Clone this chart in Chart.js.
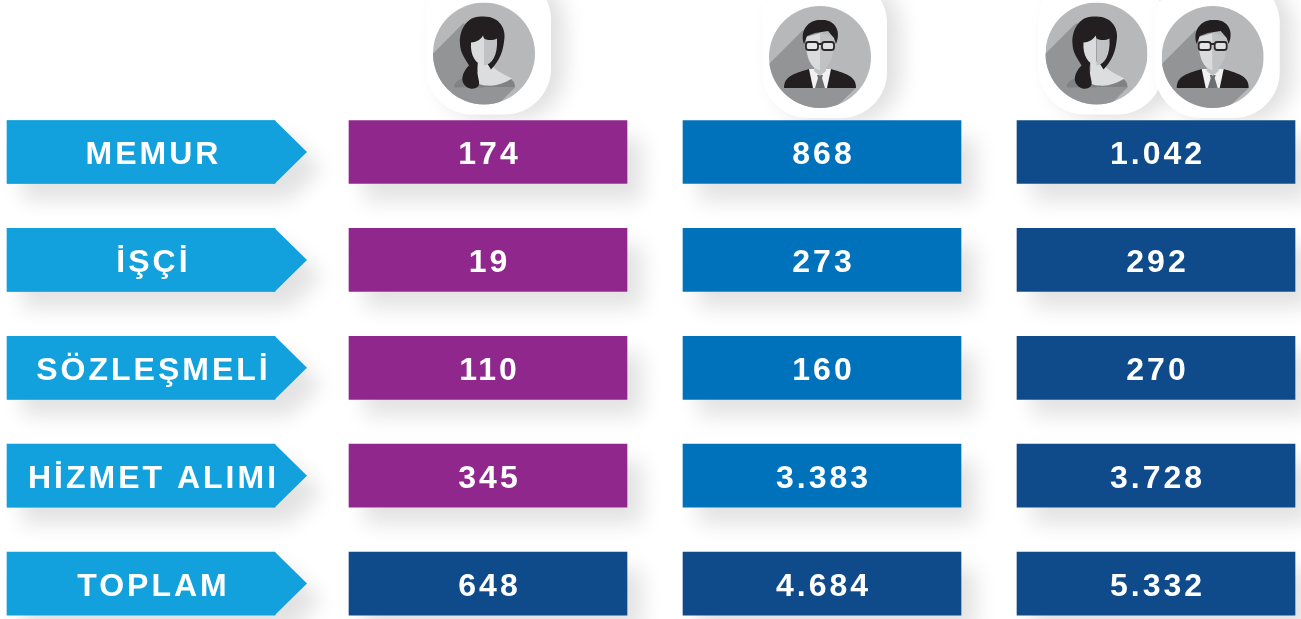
<!DOCTYPE html>
<html lang="tr">
<head>
<meta charset="utf-8">
<title>Personel tablosu</title>
<script src="https://cdn.jsdelivr.net/npm/chart.js@4"></script>
<style>
  html, body { margin: 0; padding: 0; background: #fff; overflow: hidden; }
  canvas { display: block; }
</style>
</head>
<body>
<canvas id="chart" width="1301" height="619"></canvas>
<script>
const categories = ["MEMUR", "İŞÇİ", "SÖZLEŞMELİ", "HİZMET ALIMI", "TOPLAM"]
const womenValues = [174, 19, 110, 345, 648]
const menValues = [868, 273, 160, 3383, 4684]
const totalValues = [1042, 292, 270, 3728, 5332]

const PURPLE = "#8f278d"
const BLUE = "#0072bc"
const NAVY = "#0f4a8a"
const SKY = "#12a1dc"

// one x unit = one column pitch, one y unit = one row pitch
const COL_PITCH = 334
const ROW_PITCH = 107.9
const CELL_W = 278 / COL_PITCH
const LABEL_START = -342 / COL_PITCH
const LABEL_END = -74 / COL_PITCH
const FONT = 'bold 32px "Liberation Sans", Arial, sans-serif'

const formatTr = (n) => String(n).replace(/\B(?=(\d{3})+$)/g, ".")

const cells = (col) => categories.map((_, row) => ({ x: [col, col + CELL_W], y: row }))

const datasets = [
  {
    label: "Kategori",
    data: categories.map((_, row) => ({ x: [LABEL_START, LABEL_END], y: row })),
    backgroundColor: SKY,
    texts: categories,
    textX: 0.541,
  },
  {
    label: "Kadın",
    data: cells(0),
    backgroundColor: categories.map((_, i) => (i === 4 ? NAVY : PURPLE)),
    texts: womenValues.map(formatTr),
    textX: 0.5,
  },
  {
    label: "Erkek",
    data: cells(1),
    backgroundColor: categories.map((_, i) => (i === 4 ? NAVY : BLUE)),
    texts: menValues.map(formatTr),
    textX: 0.5,
  },
  {
    label: "Toplam",
    data: cells(2),
    backgroundColor: NAVY,
    texts: totalValues.map(formatTr),
    textX: 0.5,
  },
]

function arrowPath(ctx, bar) {
  const top = bar.y - bar.height / 2
  const bottom = bar.y + bar.height / 2
  const left = Math.min(bar.x, bar.base)
  const right = Math.max(bar.x, bar.base)
  ctx.beginPath()
  ctx.moveTo(left, top)
  ctx.lineTo(right, top)
  ctx.lineTo(right + 32, bar.y)
  ctx.lineTo(right, bottom)
  ctx.lineTo(left, bottom)
  ctx.closePath()
}

function poly(ctx, pts, fill) {
  ctx.beginPath()
  pts.forEach(([x, y], i) => (i ? ctx.lineTo(x, y) : ctx.moveTo(x, y)))
  ctx.closePath()
  ctx.fillStyle = fill
  ctx.fill()
}

function drawWoman(ctx) {
  poly(ctx, [[-21, -30], [-60, 9], [-60, 70], [-5, 70], [31, 34], [0, 34], [0, -30]], "#939496")
  // shoulders
  ctx.beginPath()
  ctx.moveTo(-30, 34)
  ctx.bezierCurveTo(-30, 27, -22, 24, -10, 22)
  ctx.lineTo(20, 22)
  ctx.bezierCurveTo(28, 25, 31, 28, 31, 34)
  ctx.closePath()
  ctx.fillStyle = "#808285"
  ctx.fill()
  // chest and neck
  ctx.beginPath()
  ctx.moveTo(-12, 26)
  ctx.lineTo(-6, 18)
  ctx.lineTo(-6, 8)
  ctx.lineTo(7, 8)
  ctx.bezierCurveTo(7, 15, 18, 20, 28, 25)
  ctx.bezierCurveTo(20, 30, 10, 33, 4, 32)
  ctx.bezierCurveTo(-2, 32, -8, 30, -12, 26)
  ctx.closePath()
  ctx.fillStyle = "#dcddde"
  ctx.fill()
  // hair
  ctx.beginPath()
  ctx.moveTo(-2, -37)
  ctx.bezierCurveTo(15, -38, 23, -25, 20, -12)
  ctx.bezierCurveTo(19, -3, 16, 7, 7, 16)
  ctx.lineTo(2, 8)
  ctx.lineTo(-6, 8)
  ctx.bezierCurveTo(-8, 16, -6, 22, -5, 28)
  ctx.bezierCurveTo(-4, 33, -8, 36, -14, 35)
  ctx.bezierCurveTo(-25, 31, -23, 20, -15, 12)
  ctx.bezierCurveTo(-18, 6, -24, 0, -24, -10)
  ctx.bezierCurveTo(-25, -22, -18, -38, -2, -37)
  ctx.closePath()
  ctx.fillStyle = "#231f20"
  ctx.fill()
  // face, split in two tones
  ctx.beginPath()
  ctx.moveTo(-13, -11)
  ctx.bezierCurveTo(-8, -11, -3, -14, -1, -18)
  ctx.lineTo(0, -15)
  ctx.lineTo(0, 12)
  ctx.bezierCurveTo(-8, 11, -14, 2, -13, -11)
  ctx.closePath()
  ctx.fillStyle = "#dadbdc"
  ctx.fill()
  ctx.beginPath()
  ctx.moveTo(0, -15)
  ctx.bezierCurveTo(4, -13, 9, -13, 13, -15)
  ctx.bezierCurveTo(14, 2, 8, 11, 0, 12)
  ctx.closePath()
  ctx.fillStyle = "#c1c2c4"
  ctx.fill()
}

function drawMan(ctx) {
  poly(ctx, [[-17, -27], [-60, 16], [-60, 70], [-5, 70], [36, 31], [0, 31], [0, -25]], "#939496")
  // jacket
  ctx.beginPath()
  ctx.moveTo(-36, 31)
  ctx.bezierCurveTo(-36, 20, -28, 17, -11, 12)
  ctx.lineTo(11, 12)
  ctx.bezierCurveTo(28, 17, 36, 20, 36, 31)
  ctx.closePath()
  ctx.fillStyle = "#231f20"
  ctx.fill()
  // shirt and tie
  poly(ctx, [[-11, 12], [11, 12], [7, 31], [-7, 31]], "#f1f1f2")
  poly(ctx, [[-3, 18], [3, 18], [2, 21], [5, 31], [-5, 31], [-2, 21]], "#6d6e71")
  poly(ctx, [[-6, 8], [6, 8], [6, 14], [0, 19], [-6, 14]], "#c1c2c4")
  // face
  ctx.beginPath()
  ctx.moveTo(0, -24)
  ctx.lineTo(-14, -20)
  ctx.bezierCurveTo(-15, 0, -9, 12, 0, 13)
  ctx.closePath()
  ctx.fillStyle = "#dadbdc"
  ctx.fill()
  ctx.beginPath()
  ctx.moveTo(0, -24)
  ctx.lineTo(14, -20)
  ctx.bezierCurveTo(15, 0, 9, 12, 0, 13)
  ctx.closePath()
  ctx.fillStyle = "#c1c2c4"
  ctx.fill()
  // hair
  ctx.beginPath()
  ctx.moveTo(-16, -13)
  ctx.bezierCurveTo(-21, -28, -10, -38, 1, -37)
  ctx.bezierCurveTo(14, -38, 22, -27, 16, -13)
  ctx.lineTo(14, -19)
  ctx.lineTo(8, -26)
  ctx.lineTo(-5, -24)
  ctx.lineTo(-13, -21)
  ctx.closePath()
  ctx.fillStyle = "#231f20"
  ctx.fill()
  // glasses
  ctx.fillStyle = "rgba(235,235,236,0.7)"
  ctx.strokeStyle = "#2b2829"
  ctx.lineWidth = 1.8
  ;[-14, 2].forEach((x) => {
    ctx.beginPath()
    ctx.roundRect(x, -15, 12, 8, 2.5)
    ctx.fill()
    ctx.stroke()
  })
  ctx.beginPath()
  ctx.moveTo(-2, -13)
  ctx.lineTo(2, -13)
  ctx.stroke()
}

function drawAvatar(ctx, cx, cy, person) {
  // white backing with soft shadow, only shows lower right
  ctx.save()
  ctx.shadowColor = "rgba(0,0,0,0.13)"
  ctx.shadowBlur = 22
  ctx.shadowOffsetX = 13
  ctx.shadowOffsetY = 4
  ctx.fillStyle = "#fff"
  ctx.beginPath()
  ctx.roundRect(cx - 58, cy - 80, 125, 141, 46)
  ctx.fill()
  ctx.restore()

  ctx.save()
  ctx.translate(cx, cy)
  ctx.beginPath()
  ctx.arc(0, 0, 51, 0, Math.PI * 2)
  ctx.clip()
  ctx.fillStyle = "#b7b8ba"
  ctx.fillRect(-51, -51, 102, 102)
  person(ctx)
  ctx.restore()
}

const tablePlugin = {
  id: "table",
  beforeDatasetsDraw(chart) {
    const { ctx, scales } = chart
    const headY = scales.y.getPixelForValue(0)
    const colMid = (col) => scales.x.getPixelForValue(col + CELL_W / 2)

    drawAvatar(ctx, colMid(0) - 4, headY - 98.5, drawWoman)
    drawAvatar(ctx, colMid(1) - 2, headY - 95, drawMan)
    drawAvatar(ctx, colMid(2) - 59.5, headY - 98.5, drawWoman)
    drawAvatar(ctx, colMid(2) + 56.7, headY - 95, drawMan)

    // drop shadows of arrows and cells
    ctx.save()
    ctx.shadowColor = "rgba(0,0,0,0.115)"
    ctx.shadowBlur = 20
    ctx.shadowOffsetX = 15
    ctx.shadowOffsetY = 17
    chart.getSortedVisibleDatasetMetas().forEach((meta) => {
      meta.data.forEach((bar) => {
        ctx.fillStyle = "#fff"
        if (meta.index === 0) {
          arrowPath(ctx, bar)
        } else {
          ctx.beginPath()
          ctx.rect(bar.base, bar.y - bar.height / 2, bar.x - bar.base, bar.height)
        }
        ctx.fill()
      })
    })
    ctx.restore()
  },
  afterDatasetsDraw(chart) {
    const { ctx } = chart
    ctx.save()
    ctx.font = FONT
    ctx.letterSpacing = "3px"
    ctx.textAlign = "center"
    ctx.textBaseline = "alphabetic"
    chart.getSortedVisibleDatasetMetas().forEach((meta) => {
      const ds = chart.data.datasets[meta.index]
      meta.data.forEach((bar, i) => {
        if (meta.index === 0) {
          arrowPath(ctx, bar)
          ctx.fillStyle = SKY
          ctx.fill()
        }
        const left = Math.min(bar.x, bar.base)
        const right = Math.max(bar.x, bar.base)
        const mid = left + (right - left) * ds.textX + 1.5
        ctx.fillStyle = "#fff"
        ctx.fillText(ds.texts[i], mid, bar.y + 12)
      })
    })
    ctx.restore()
  },
}

new Chart(document.getElementById("chart"), {
  type: "bar",
  data: { datasets },
  plugins: [tablePlugin],
  options: {
    indexAxis: "y",
    responsive: false,
    animation: false,
    devicePixelRatio: 1,
    layout: { padding: 0 },
    grouped: false,
    barThickness: 63,
    borderSkipped: false,
    plugins: { legend: { display: false }, tooltip: { enabled: false } },
    scales: {
      x: { type: "linear", display: false, min: -349 / COL_PITCH, max: 952 / COL_PITCH },
      y: {
        type: "linear",
        display: false,
        offset: false,
        reverse: true,
        min: -152 / ROW_PITCH,
        max: 467 / ROW_PITCH,
      },
    },
  },
})
</script>
</body>
</html>
